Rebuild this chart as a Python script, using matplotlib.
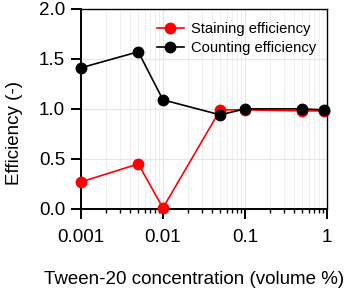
import matplotlib
matplotlib.use("Agg")
import matplotlib.pyplot as plt
from matplotlib.ticker import FixedLocator, FixedFormatter, LogLocator, NullFormatter

conc = [0.001, 0.005, 0.01, 0.05, 0.1, 0.5, 0.92]
staining = [0.27, 0.45, 0.01, 0.99, 0.99, 0.98, 0.98]
counting = [1.41, 1.57, 1.09, 0.94, 1.00, 1.00, 0.99]
xticks = [0.001, 0.01, 0.1, 1]
xticklabels = ["0.001", "0.01", "0.1", "1"]
yticks = [0.0, 0.5, 1.0, 1.5, 2.0]

plt.rcParams['font.family'] = ['Liberation Sans', 'DejaVu Sans']

fig = plt.figure(figsize=(3.47, 2.91), dpi=100)
ax = fig.add_axes([0.2334, 0.2818, 0.7086, 0.6882])

ax.plot(conc, staining, color='#ff0000', marker='o', markersize=7.5, lw=1.2, label='Staining efficiency', zorder=3, clip_on=False)
ax.plot(conc, counting, color='#000000', marker='o', markersize=7.5, lw=1.2, label='Counting efficiency', zorder=4, clip_on=False)

ax.set_xscale('log')
ax.set_xlim(0.001, 1)
ax.set_ylim(0, 2.0)
ax.xaxis.set_major_locator(FixedLocator(xticks))
ax.xaxis.set_major_formatter(FixedFormatter(xticklabels))
ax.xaxis.set_minor_locator(LogLocator(base=10, subs=range(2, 10)))
ax.xaxis.set_minor_formatter(NullFormatter())
ax.set_yticks(yticks)
ax.set_yticklabels([f"{v:.1f}" for v in yticks])

ax.grid(True, which='major', axis='both', color='#e6e6e6', lw=0.8, zorder=0)
ax.grid(True, which='minor', axis='x', color='#ececec', lw=0.6, zorder=0)
ax.set_axisbelow(True)

for s in ['top', 'right']:
    ax.spines[s].set_linewidth(1.0)
for s in ['left', 'bottom']:
    ax.spines[s].set_linewidth(1.4)

ax.tick_params(axis='both', which='major', direction='out', length=7.5, width=1.4, labelsize=13.5, pad=4)
ax.tick_params(axis='x', which='minor', direction='out', length=3, width=1.0)
ax.tick_params(axis='x', which='major', pad=7)

ax.set_ylabel('Efficiency (-)', fontsize=13.5)
ax.yaxis.set_label_coords(-0.237, 0.377)
ax.set_xlabel('Tween-20 concentration (volume %)', fontsize=13.5)
ax.xaxis.set_label_coords(0.459, -0.31)

ax.legend(loc='upper right', bbox_to_anchor=(1.01, 1.0), frameon=False, fontsize=10.6,
          handlelength=1.8, handletextpad=0.5, labelspacing=0.35)

fig.savefig('out.png', dpi=100)
